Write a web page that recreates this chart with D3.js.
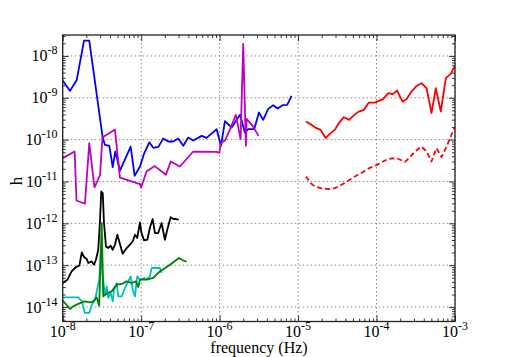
<!DOCTYPE html>
<html>
<head>
<meta charset="utf-8">
<script src="https://cdn.jsdelivr.net/npm/d3@7"></script>
<style>
  html, body { margin: 0; padding: 0; background: #fff; }
  svg { display: block; }
  text { font-family: "Liberation Serif", "Times New Roman", serif; fill: #000; }
</style>
</head>
<body>
<svg id="chart" width="506" height="357"></svg>
<script>
// ---- data (frequency in Hz, strain h) ----
const blueF = [1.0e-8,1.24e-8,1.51e-8,1.87e-8,2.18e-8,3.24e-8,3.46e-8,3.93e-8,4.34e-8,4.68e-8,5.37e-8,7.35e-8,8.26e-8,9.66e-8,1.09e-7,1.27e-7,1.43e-7,1.66e-7,1.91e-7,2.21e-7,2.56e-7,2.97e-7,3.44e-7,3.98e-7,4.61e-7,5.9e-7,6.82e-7,9.16e-7,1.04e-6,1.17e-6,1.42e-6,1.82e-6,2.10e-6,2.31e-6,2.76e-6,3.17e-6,3.59e-6,4.16e-6,4.82e-6,5.48e-6,6.35e-6,7.26e-6,8.26e-6];
const blueH = [2.58e-9,1.46e-9,2.67e-9,2.32e-8,2.32e-8,1.09e-10,7.52e-11,7.11e-11,2.21e-11,5.2e-11,1.83e-11,6.84e-11,1.37e-11,2.28e-11,4.66e-11,8.63e-11,6.37e-11,6.73e-11,1.07e-10,9.02e-11,9.02e-11,1.06e-10,7.11e-11,1.12e-10,9.53e-11,1.23e-10,1.10e-10,1.78e-10,7.11e-11,2.77e-10,1.95e-10,3.91e-10,1.48e-10,1.78e-10,1.78e-10,4.44e-10,2.97e-10,5.43e-10,6.65e-10,5.52e-10,6.65e-10,6.78e-10,1.11e-9];

const magentaF = [1.0e-8,1.42e-8,1.50e-8,1.92e-8,2.18e-8,2.54e-8,2.99e-8,3.21e-8,4.63e-8,5.37e-8,9.66e-8,1.0e-7,1.17e-7,1.49e-7,2.07e-7,2.38e-7,3.12e-7,4.61e-7,9.16e-7,9.93e-7,1.03e-6,1.17e-6,1.35e-6,1.61e-6,1.85e-6,2.0e-6,2.16e-6,2.21e-6,2.63e-6,3.14e-6];
const magentaH = [3.61e-11,5.2e-11,3.52e-12,2.94e-12,8.24e-11,7.26e-12,1.41e-11,1.12e-10,1.74e-10,1.24e-11,8.67e-12,7.19e-12,1.73e-11,2.33e-11,1.45e-11,3.0e-11,2.28e-11,5.2e-11,5.12e-11,4.84e-11,8.24e-11,9.53e-11,1.71e-10,3.91e-10,1.03e-10,1.93e-8,7.11e-11,3.13e-10,2.13e-10,1.23e-10];

const blackF = [1.0e-8,1.15e-8,1.30e-8,1.48e-8,1.63e-8,1.75e-8,1.87e-8,2.02e-8,2.12e-8,2.34e-8,2.51e-8,2.65e-8,2.84e-8,2.99e-8,3.10e-8,3.24e-8,3.36e-8,3.56e-8,3.81e-8,4.08e-8,4.34e-8,4.63e-8,4.97e-8,5.26e-8,5.81e-8,6.53e-8,7.19e-8,7.80e-8,8.34e-8,8.91e-8,9.66e-8,1.01e-7,1.09e-7,1.20e-7,1.29e-7,1.40e-7,1.50e-7,1.65e-7,1.82e-7,2.01e-7,2.15e-7,2.38e-7,2.56e-7,2.77e-7,3.01e-7];
const blackH = [3.76e-14,4.51e-14,7.11e-14,9.06e-14,9.73e-14,2.02e-13,1.57e-13,1.41e-13,1.13e-13,1.23e-13,1.03e-13,1.35e-13,2.34e-13,1.22e-12,5.77e-12,5.28e-12,1.02e-12,2.81e-13,2.58e-13,2.92e-13,2.34e-13,3.08e-13,5.35e-13,3.70e-13,1.88e-13,2.57e-13,3.08e-13,3.70e-13,5.35e-13,4.46e-13,1.05e-12,5.86e-13,3.91e-13,4.06e-13,7.73e-13,1.27e-12,5.86e-13,5.86e-13,1.02e-12,4.06e-13,7.03e-13,1.41e-12,1.27e-12,1.27e-12,1.22e-12];

const greenF = [1.0e-8,1.24e-8,1.36e-8,1.58e-8,1.75e-8,1.92e-8,2.23e-8,2.45e-8,2.71e-8,2.92e-8,3.14e-8,3.29e-8,3.64e-8,4.21e-8,4.88e-8,5.65e-8,6.53e-8,7.57e-8,8.59e-8,9.18e-8,9.66e-8,1.17e-7,1.43e-7,1.73e-7,2.33e-7,3.03e-7,3.28e-7,3.80e-7];
const greenH = [1.42e-14,9.02e-15,1.04e-14,1.19e-14,1.29e-14,1.37e-14,1.29e-14,1.37e-14,1.70e-14,1.08e-14,1.02e-12,1.80e-14,2.09e-14,2.37e-14,3.43e-14,3.56e-14,4.10e-14,3.76e-14,4.10e-14,3.02e-14,4.51e-14,4.51e-14,4.95e-14,7.11e-14,1.03e-13,1.49e-13,1.35e-13,1.21e-13];

const cyanF = [1.0e-8,1.58e-8,1.75e-8,1.92e-8,2.18e-8,2.34e-8,2.58e-8,2.92e-8,3.05e-8,3.24e-8,3.46e-8,3.64e-8,3.81e-8,4.08e-8,4.34e-8,4.51e-8,4.88e-8,5.11e-8,5.65e-8,6.22e-8,6.85e-8,7.35e-8,7.80e-8,8.34e-8,8.91e-8,9.66e-8,1.09e-7,1.15e-7,1.29e-7,1.36e-7,1.73e-7,1.82e-7];
const cyanH = [1.70e-14,1.70e-14,1.37e-14,7.23e-15,7.23e-15,1.14e-14,1.50e-14,4.51e-14,1.95e-13,5.41e-14,1.98e-14,3.12e-14,1.65e-14,2.17e-14,1.37e-14,2.60e-14,3.76e-14,1.80e-14,1.80e-14,2.86e-14,4.10e-14,5.41e-14,2.60e-14,1.80e-14,5.41e-14,4.51e-14,4.95e-14,4.51e-14,5.41e-14,8.57e-14,8.57e-14,6.52e-14];

const redF = [1.26e-5,1.49e-5,1.72e-5,1.94e-5,2.24e-5,2.54e-5,2.94e-5,3.34e-5,3.83e-5,4.48e-5,5.04e-5,5.83e-5,6.89e-5,7.98e-5,9.51e-5,1.21e-4,1.41e-4,1.60e-4,1.83e-4,2.14e-4,2.41e-4,2.79e-4,3.24e-4,3.74e-4,4.34e-4,5.02e-4,5.69e-4,6.59e-4,7.64e-4,8.83e-4,1.0e-3];
const redH = [2.70e-10,2.25e-10,1.88e-10,1.71e-10,1.09e-10,1.37e-10,1.71e-10,2.56e-10,3.44e-10,2.97e-10,3.70e-10,4.60e-10,5.14e-10,7.67e-10,7.67e-10,9.27e-10,1.29e-9,1.22e-9,1.49e-9,8.11e-10,9.27e-10,1.41e-9,1.92e-9,2.23e-9,1.69e-9,4.29e-10,1.69e-9,4.69e-10,2.94e-9,3.72e-9,5.77e-9];

const redDashF = [1.26e-5,1.44e-5,1.64e-5,1.94e-5,2.42e-5,2.94e-5,3.58e-5,4.35e-5,5.30e-5,6.64e-5,8.22e-5,1.0e-4,1.21e-4,1.41e-4,1.80e-4,2.30e-4,2.60e-4,3.08e-4,3.74e-4,4.34e-4,5.02e-4,5.81e-4,6.73e-4,7.80e-4,8.83e-4,1.0e-3];
const redDashH = [1.32e-11,9.16e-12,7.60e-12,6.95e-12,6.59e-12,6.95e-12,8.34e-12,1.04e-11,1.32e-11,1.67e-11,2.12e-11,2.46e-11,3.0e-11,3.48e-11,3.61e-11,2.95e-11,3.61e-11,5.2e-11,6.84e-11,5.2e-11,3.0e-11,6.27e-11,3.82e-11,6.84e-11,1.19e-10,2.06e-10];

const xTickExps = [-8, -7, -6, -5, -4, -3];
const yTickExps = [-14, -13, -12, -11, -10, -9, -8];
const xLabel = "frequency (Hz)";
const yLabel = "h";

// ---- layout ----
const svg = d3.select("#chart");
const L = 62.7, R = 455, T = 35, B = 321.5;

const x = d3.scaleLog().domain([1e-8, 1e-3]).range([L, R]);
const y = d3.scaleLog().domain([Math.pow(10, -14.345), Math.pow(10, -7.5)]).range([B, T]);

svg.append("rect").attr("width", 506).attr("height", 357).attr("fill", "#fff");

svg.append("defs").append("clipPath").attr("id", "clip")
  .append("rect").attr("x", L).attr("y", T).attr("width", R - L).attr("height", B - T);

// grid
const grid = svg.append("g");
xTickExps.forEach(e => {
  const px = x(Math.pow(10, e));
  grid.append("line").attr("x1", px).attr("x2", px).attr("y1", T).attr("y2", B)
    .attr("stroke", "#888").attr("stroke-width", 1).attr("stroke-dasharray", "1.5,2.5");
});
yTickExps.forEach(e => {
  const py = y(Math.pow(10, e));
  grid.append("line").attr("x1", L).attr("x2", R).attr("y1", py).attr("y2", py)
    .attr("stroke", "#888").attr("stroke-width", 1).attr("stroke-dasharray", "1.5,2.5");
});

// ticks (inside, all four sides) via d3 axes
const majorX = xTickExps.map(e => Math.pow(10, e));
const minorX = [];
for (let e = -8; e < -3; e++) for (let k = 2; k <= 9; k++) minorX.push(k * Math.pow(10, e));
const majorY = yTickExps.map(e => Math.pow(10, e));
const minorY = [];
for (let e = -15; e < -7; e++) for (let k = 2; k <= 9; k++) {
  const v = k * Math.pow(10, e);
  if (v >= y.domain()[0] && v <= y.domain()[1]) minorY.push(v);
}

function tickAxis(axisFn, scale, vals, size, tr) {
  const g = svg.append("g").attr("transform", tr)
    .call(axisFn(scale).tickValues(vals).tickSize(size).tickFormat(""));
  g.select(".domain").remove();
  g.selectAll("line").attr("stroke", "#000").attr("stroke-width", 0.8);
  return g;
}
tickAxis(d3.axisBottom, x, majorX, -6, `translate(0,${B})`);
tickAxis(d3.axisBottom, x, minorX, -3, `translate(0,${B})`);
tickAxis(d3.axisTop, x, majorX, -6, `translate(0,${T})`);
tickAxis(d3.axisTop, x, minorX, -3, `translate(0,${T})`);
tickAxis(d3.axisLeft, y, majorY, -6, `translate(${L},0)`);
tickAxis(d3.axisLeft, y, minorY, -3, `translate(${L},0)`);
tickAxis(d3.axisRight, y, majorY, -6, `translate(${R},0)`);
tickAxis(d3.axisRight, y, minorY, -3, `translate(${R},0)`);

// tick labels
xTickExps.forEach(e => {
  const t = svg.append("text").attr("x", x(Math.pow(10, e))).attr("y", 337)
    .attr("text-anchor", "middle").attr("font-size", 16);
  t.append("tspan").text("10");
  t.append("tspan").attr("dy", -7).attr("font-size", 12).text("" + e);
});
yTickExps.forEach(e => {
  const t = svg.append("text").attr("x", 57.5).attr("y", y(Math.pow(10, e)) + 5.5)
    .attr("text-anchor", "end").attr("font-size", 16);
  t.append("tspan").text("10");
  t.append("tspan").attr("dy", -7).attr("font-size", 12).text("" + e);
});

// axis labels
svg.append("text").attr("x", 259).attr("y", 353).attr("text-anchor", "middle")
  .attr("font-size", 16).text(xLabel);
svg.append("text").attr("transform", "translate(22,181) rotate(-90)")
  .attr("text-anchor", "middle").attr("font-size", 17).text(yLabel);

// series
const line = d3.line().x(d => x(d[0])).y(d => y(d[1]));
const plot = svg.append("g").attr("clip-path", "url(#clip)");
const series = [
  { f: blueF, h: blueH, color: "#0000ff" },
  { f: magentaF, h: magentaH, color: "#bf00bf" },
  { f: blackF, h: blackH, color: "#000000" },
  { f: cyanF, h: cyanH, color: "#00bfbf" },
  { f: greenF, h: greenH, color: "#008000" },
  { f: redF, h: redH, color: "#ff0000" },
  { f: redDashF, h: redDashH, color: "#ff0000", dash: "5,3" }
];
series.forEach(s => {
  plot.append("path").datum(s.f.map((f, i) => [f, s.h[i]]))
    .attr("fill", "none").attr("stroke", s.color).attr("stroke-width", 1.8)
    .attr("stroke-linejoin", "round")
    .attr("stroke-dasharray", s.dash || null)
    .attr("d", line);
});

// frame
svg.append("rect").attr("x", L).attr("y", T).attr("width", R - L).attr("height", B - T)
  .attr("fill", "none").attr("stroke", "#222").attr("stroke-width", 1.3);
</script>
</body>
</html>
